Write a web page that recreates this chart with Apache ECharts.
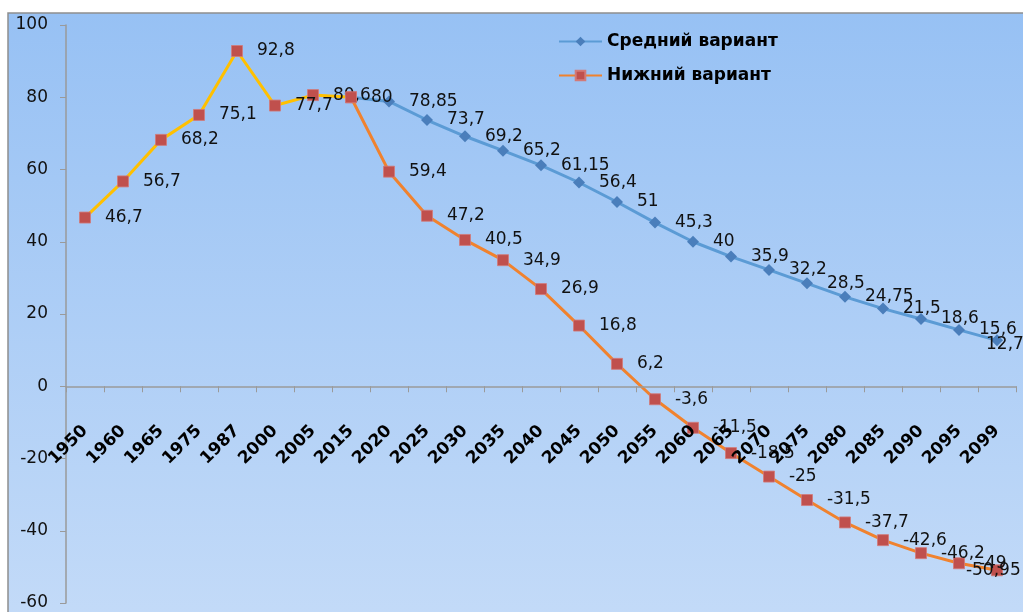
<!DOCTYPE html>
<html>
<head>
<meta charset="utf-8">
<script src="https://cdn.jsdelivr.net/npm/echarts@6/dist/echarts.min.js"></script>
<style>html,body{margin:0;padding:0;background:#fff}#c{width:1023px;height:612px}</style>
</head>
<body>
<div id="c"></div>
<script>
var categories = ['1950','1960','1965','1975','1987','2000','2005','2015','2020','2025','2030','2035','2040','2045','2050','2055','2060','2065','2070','2075','2080','2085','2090','2095','2099'];
// Нижний вариант (including historical part 1950-2015)
var lowerValues = [46.7,56.7,68.2,75.1,92.8,77.7,80.6,80,59.4,47.2,40.5,34.9,26.9,16.8,6.2,-3.6,-11.5,-18.5,-25,-31.5,-37.7,-42.6,-46.2,-49,-50.95];
// Средний вариант (starts 2015)
var middleValues = [null,null,null,null,null,null,null,80,78.85,73.7,69.2,65.2,61.15,56.4,51,45.3,40,35.9,32.2,28.5,24.75,21.5,18.6,15.6,12.7];
var historyEnd = 7; // index of 2015
var yTicks = {min:-60, max:100, interval:20};

var FONT = 'DejaVu Sans';
function fmt(p){ var v = Array.isArray(p.value) ? p.value[1] : p.value; return (v===null||v===undefined)?'':String(v).replace('.',','); }

var historyData = lowerValues.map(function(v,i){ return i<=historyEnd ? v : null; });
var lowerData = lowerValues.map(function(v,i){
  if (i < historyEnd) return null;
  var o = {value:v};
  if (i === historyEnd) o.label = {show:false};
  if (i === lowerValues.length-1) o.label = {offset:[-51,0]};
  return o;
});
var middleData = middleValues.map(function(v,i){
  var o = {value:v};
  if (i === historyEnd) o.label = {show:false};
  if (i === middleValues.length-1) o.label = {offset:[-31,4]};
  return o;
});

var labelCommon = {show:true, position:'right', distance:14, color:'#111', fontFamily:FONT, fontSize:17, formatter:fmt};

var gridTop = 25, gridBottomPx = 603;
var zeroOffset = -(gridBottomPx - gridTop) * (0 - yTicks.min) / (yTicks.max - yTicks.min);

var chart = echarts.init(document.getElementById('c'), null, {renderer:'canvas'});
chart.setOption({
  backgroundColor:'#ffffff',
  animation:false,
  graphic:[{
    type:'rect', z:-10, silent:true,
    shape:{x:8, y:13, width:1030, height:620},
    style:{
      fill:new echarts.graphic.LinearGradient(0,0,0,1,[{offset:0,color:'#97c1f4'},{offset:1,color:'#c4dbf8'}]),
      stroke:'#8e8e8e', lineWidth:1.5
    }
  }],
  legend:{
    orient:'vertical', left:553, top:28, itemGap:17,
    itemWidth:43, itemHeight:12,
    data:['Средний вариант','Нижний вариант'],
    textStyle:{fontFamily:FONT, fontSize:17, fontWeight:'bold', color:'#000'}
  },
  grid:{left:66, top:gridTop, right:7, bottom:612-gridBottomPx, containLabel:false, outerBoundsMode:'none'},
  xAxis:{
    type:'category', data:categories, boundaryGap:true,
    position:'bottom', offset:zeroOffset, z:10,
    axisLine:{onZero:false, lineStyle:{color:'#9a9a9a', width:1.5}},
    axisTick:{show:true, length:6, lineStyle:{color:'#9a9a9a'}},
    axisLabel:{interval:0, rotate:45, margin:42, fontFamily:FONT, fontSize:17, fontWeight:'bold', color:'#000'},
    splitLine:{show:false}
  },
  yAxis:{
    type:'value', min:yTicks.min, max:yTicks.max, interval:yTicks.interval,
    axisLine:{show:true, lineStyle:{color:'#9a9a9a', width:1.5}},
    axisTick:{show:true, length:6, lineStyle:{color:'#9a9a9a'}},
    axisLabel:{margin:18, fontFamily:FONT, fontSize:17, color:'#111'},
    splitLine:{show:false}
  },
  series:[
    {
      name:'Средний вариант', type:'line', data:middleData, z:2,
      symbol:'diamond', symbolSize:12, showAllSymbol:true,
      lineStyle:{color:'#5b9bd5', width:3},
      itemStyle:{color:'#4a7ebb'},
      label:labelCommon
    },
    {
      name:'История', type:'line', data:historyData, z:3,
      symbol:'rect', symbolSize:11, showAllSymbol:true,
      lineStyle:{color:'#ffc000', width:3},
      itemStyle:{color:'#c0504d', borderColor:'#d27a78', borderWidth:0.8},
      label:labelCommon
    },
    {
      name:'Нижний вариант', type:'line', data:lowerData, z:4,
      symbol:'rect', symbolSize:11, showAllSymbol:true,
      lineStyle:{color:'#f0822e', width:3},
      itemStyle:{color:'#c0504d', borderColor:'#d27a78', borderWidth:0.8},
      label:labelCommon
    }
  ]
});
</script>
</body>
</html>
